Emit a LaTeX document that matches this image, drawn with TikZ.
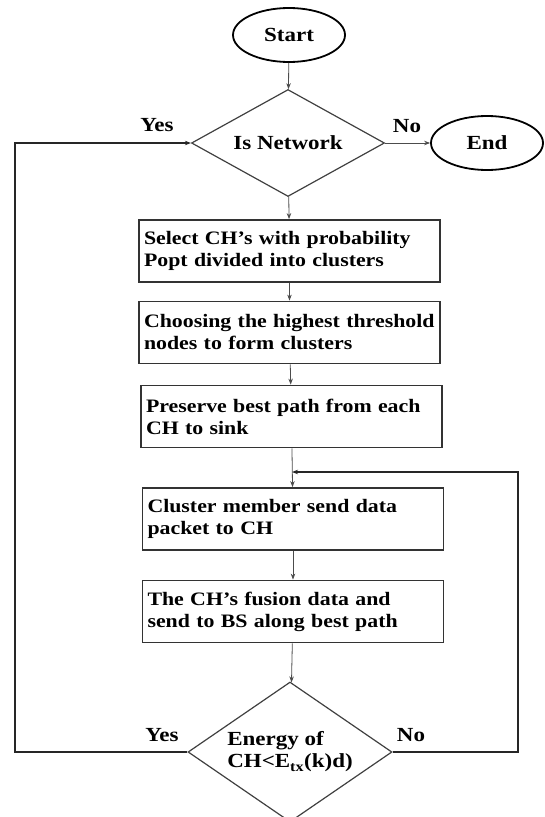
\documentclass[tikz,border=0pt]{standalone}
\usepackage{fontspec}
\setmainfont{Liberation Serif}[FakeStretch=1.15]
\usetikzlibrary{shapes.geometric, arrows.meta, positioning}

\begin{document}
\begin{tikzpicture}[x=1pt, y=-1pt,
        terminal/.style={ellipse, draw=black, line width=1.8pt, minimum width=112pt, minimum height=54pt, inner sep=0pt, font=\fontsize{20}{22}\selectfont\bfseries},
        decision/.style={diamond, draw=black!75, line width=1.2pt, inner sep=0pt, font=\fontsize{20}{22}\selectfont\bfseries},
        process/.style={rectangle, draw=black!80, line width=1.8pt, minimum height=62pt, text width=291pt, inner xsep=5pt, align=left, font=\fontsize{19}{22}\selectfont\bfseries},
        answer/.style={font=\fontsize{20}{22}\selectfont\bfseries},
        arrow/.style={-{Stealth[length=6pt, width=4.5pt]}, draw=black!70, line width=0.8pt},
        feedback/.style={-{Stealth[length=6pt, width=4.5pt]}, draw=black!85, line width=1.3pt}
    ]
        \useasboundingbox (0,0) rectangle (545,817);

        % Start and end
        \node[terminal] (start) at (289,35) {Start};
        \node[terminal] (end) at (487,143) {End};

        % Network check
        \node[decision, minimum width=193pt, minimum height=107pt, aspect=1.8] (isnet) at (288,143) {Is Network};

        % Steps
        \node[process] (select) at (289.5,251) {Select CH’s with probability\\Popt divided into clusters};
        \node[process] (choose) at (289.5,332.5) {Choosing the highest threshold\\nodes to form clusters};
        \node[process] (preserve) at (291.5,416.5) {Preserve best path from each\\CH to sink};
        \node[process] (member) at (293,519) {Cluster member send data\\packet to CH};
        \node[process] (fusion) at (293,611.5) {The CH’s fusion data and\\send to BS along best path};

        % Energy check
        \node[decision, minimum width=204pt, minimum height=140pt, aspect=1.46, align=left] (energy) at (290,752) {Energy of\\CH<E\textsubscript{tx}(k)d)};

        % Loop corners
        \coordinate (ltop) at (15,143);
        \coordinate (rtop) at (518,472);
        \coordinate (merge) at (292,472);

        % Arrows down the chain
        \draw[arrow] (start) -- (isnet);
        \draw[arrow] (isnet) -- (end);
        \draw[arrow] (isnet) -- (select);
        \draw[arrow] (select) -- (choose);
        \draw[arrow] (choose) -- (preserve);
        \draw[arrow] (preserve) -- (member);
        \draw[arrow] (member) -- (fusion);
        \draw[arrow] (fusion) -- (energy);

        % Feedback loops
        \draw[feedback] (energy.west) -| (ltop) -- (isnet.west);
        \draw[feedback] (energy.east) -| (rtop) -- (merge);

        % Labels
        \node[answer] (yes1) at (157,125) {Yes};
        \node[answer] (no1) at (407,126) {No};
        \node[answer] (yes2) at (162,735) {Yes};
        \node[answer] (no2) at (411,735) {No};
    \end{tikzpicture}
\end{document}
